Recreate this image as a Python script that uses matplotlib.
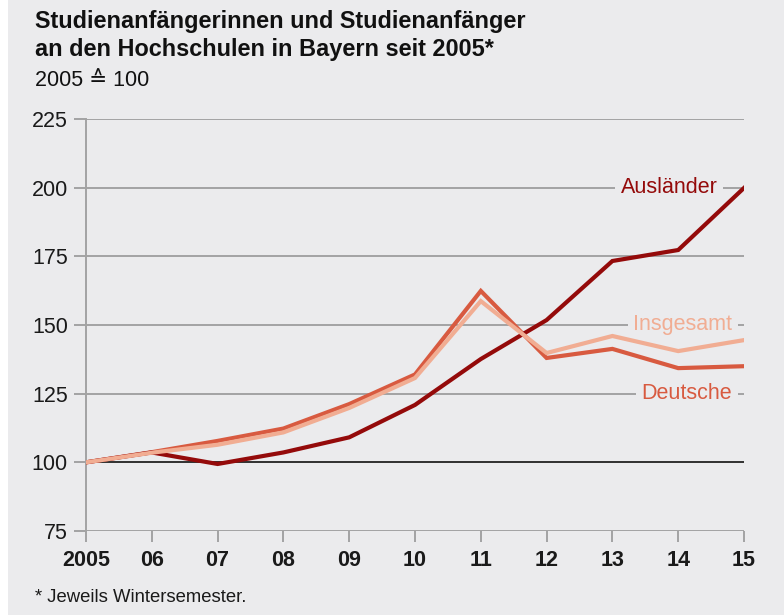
import numpy as np
import matplotlib
matplotlib.use('Agg')
import matplotlib.pyplot as plt
from matplotlib.patches import Rectangle

years = [2005, 2006, 2007, 2008, 2009, 2010, 2011, 2012, 2013, 2014, 2015]
year_labels = ['2005', '06', '07', '08', '09', '10', '11', '12', '13', '14', '15']

auslaender = [100, 103.6, 99.4, 103.6, 109.1, 120.9, 137.6, 151.8, 173.3, 177.3, 199.9]
deutsche = [100, 103.7, 107.8, 112.3, 121.2, 132.0, 162.4, 138.0, 141.3, 134.3, 135.0]
insgesamt = [100, 103.5, 106.4, 110.9, 119.8, 130.7, 158.7, 139.8, 146.0, 140.5, 144.5]

bg = '#ebebed'
c_aus = '#940a0a'
c_deu = '#d85a40'
c_ins = '#f1ad93'
grid_c = '#a3a3a3'

plt.rcParams['font.family'] = ['Liberation Sans', 'DejaVu Sans']

fig = plt.figure(figsize=(7.84, 6.15), dpi=100)
fig.patch.set_facecolor('white')
fig.patches.append(Rectangle((8 / 784, 0), 1, 1, transform=fig.transFigure,
                             facecolor=bg, edgecolor='none', zorder=-10))

ax = fig.add_axes([86 / 784, 1 - 531 / 615, 658 / 784, 412 / 615])
ax.set_facecolor(bg)
ax.set_xlim(2005, 2015)
ax.set_ylim(75, 225)

for v in [75, 125, 150, 175, 200, 225]:
    ax.axhline(v, color=grid_c, lw=1.4, zorder=1)
ax.axhline(100, color='#222222', lw=1.3, zorder=1)

for s in ['top', 'right', 'bottom']:
    ax.spines[s].set_visible(False)
ax.spines['left'].set_color(grid_c)
ax.spines['left'].set_linewidth(1.4)

ax.set_yticks([75, 100, 125, 150, 175, 200, 225])
ax.set_xticks(years)
ax.set_xticklabels(year_labels, fontweight='bold')
ax.tick_params(axis='y', length=9, width=1.4, color=grid_c, pad=4,
               labelsize=15.5, labelcolor='#1a1a1a')
ax.tick_params(axis='x', length=8, width=1.4, color=grid_c, pad=6,
               labelsize=15.5, labelcolor='#1a1a1a', direction='out')

ax.plot(years, deutsche, color=c_deu, lw=3.0, zorder=3, solid_joinstyle='miter')
ax.plot(years, auslaender, color=c_aus, lw=3.0, zorder=4, solid_joinstyle='miter')
ax.plot(years, insgesamt, color=c_ins, lw=3.0, zorder=5, solid_joinstyle='miter')

box = dict(facecolor=bg, edgecolor='none', pad=4)
ax.text(2014.6, 200, 'Ausländer', color=c_aus, fontsize=15.5, ha='right',
        va='center', bbox=box, zorder=2)
ax.text(2014.82, 150, 'Insgesamt', color=c_ins, fontsize=15.5, ha='right',
        va='center', bbox=box, zorder=2)
ax.text(2014.82, 125, 'Deutsche', color=c_deu, fontsize=15.5, ha='right',
        va='center', bbox=box, zorder=2)

fig.text(35 / 784, 1 - 28 / 615, 'Studienanfängerinnen und Studienanfänger',
         fontsize=16.9, fontweight='bold', color='#111111', va='baseline')
fig.text(35 / 784, 1 - 56 / 615, 'an den Hochschulen in Bayern seit 2005*',
         fontsize=16.9, fontweight='bold', color='#111111', va='baseline')
fig.text(35 / 784, 1 - 86 / 615, '2005 ≙ 100', fontsize=15.5,
         color='#111111', va='baseline')
fig.text(35 / 784, 1 - 602 / 615, '* Jeweils Wintersemester.', fontsize=13.3,
         color='#1a1a1a', va='baseline')

fig.savefig('out.png', dpi=100, facecolor=fig.get_facecolor())
